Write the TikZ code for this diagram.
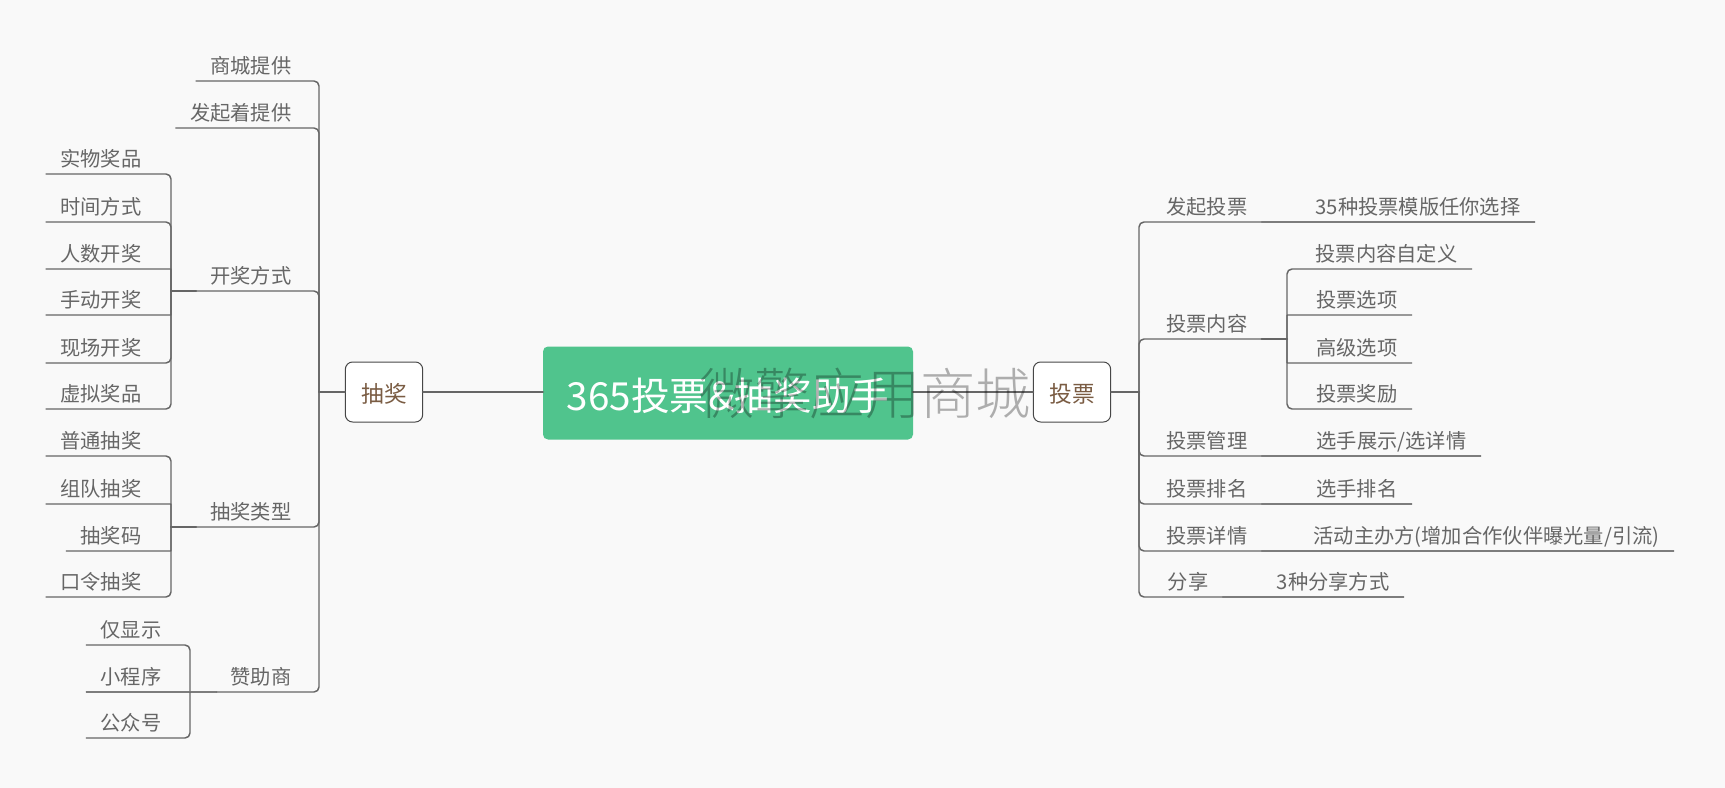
\documentclass[tikz,border=0pt]{standalone}
\usepackage{fontspec}
\setmainfont{Noto Sans CJK SC}
\newfontfamily\stampfont[UprightFont=* Light]{Noto Sans CJK SC}
\definecolor{ink}{HTML}{666666}
\definecolor{canvas}{HTML}{F9F9F9}
\definecolor{rootgreen}{HTML}{50C48D}
\definecolor{boxtext}{HTML}{7A5C43}
\tikzset{
  every picture/.style={line cap=round, line join=round},
  rootbox/.style={
    fill=rootgreen,
    rounded corners=3.75pt,
    minimum width=277.5pt,
    minimum height=69.75pt,
    inner sep=0pt,
    text=white,
    text height=28pt,
    text depth=1.5pt,
    font=\fontsize{29}{32}\selectfont
  },
  mainbox/.style={
    draw=ink!120,
    fill=white,
    rounded corners=5.5pt,
    line width=0.75pt,
    minimum width=58pt,
    minimum height=45pt,
    inner sep=0pt,
    text=boxtext,
    text height=16pt,
    text depth=0pt,
    font=\fontsize{17}{20}\selectfont
  },
  topic/.style={
    anchor=south east,
    xshift=1.25pt,
    inner xsep=10.5pt,
    inner ysep=0pt,
    text height=12pt,
    text depth=5.3pt,
    text=ink,
    font=\fontsize{15.2}{18}\selectfont
  },
  stamp/.style={
    text=black,
    text opacity=0.3,
    inner sep=0pt,
    font=\stampfont\fontsize{41.5}{46}\selectfont
  },
  mainlink/.style={draw=ink, line width=2.2pt},
  boxlink/.style={draw=ink, line width=1.5pt},
  flatlink/.style={draw=ink!85, line width=1pt},
  link/.style={draw=ink, line width=1.1pt, rounded corners=0.4pt},
  elbow/.style={link, rounded corners=3.75pt}
}
\begin{document}
\begin{tikzpicture}[x=0.75pt, y=-0.75pt]
  \useasboundingbox[fill=canvas] (0,0) rectangle (1725,788);

  % Nodes
  \node[rootbox] (root) at (728,393) {365投票\&抽奖助手};
  \node[mainbox] (draw) at (384,392) {抽奖};
  \node[mainbox] (vote) at (1072,392) {投票};
  \coordinate (drawjoin) at (319,392);
  \coordinate (votejoin) at (1139,392);

  % Lottery side
  \node[topic] (mall) at (304,81) {商城提供};
  \node[topic] (host) at (304,128) {发起着提供};
  \node[topic] (mode) at (304,291) {开奖方式};
  \node[topic] (kind) at (304,527) {抽奖类型};
  \node[topic] (sponsor) at (304,692) {赞助商};
  \coordinate (modejoin) at (171,291);
  \coordinate (kindjoin) at (171,527);
  \coordinate (sponsorjoin) at (190,692);

  \node[topic] (real) at (154,174) {实物奖品};
  \node[topic] (timed) at (154,222) {时间方式};
  \node[topic] (crowd) at (154,269) {人数开奖};
  \node[topic] (manual) at (154,315) {手动开奖};
  \node[topic] (onsite) at (154,363) {现场开奖};
  \node[topic] (virtual) at (154,409) {虚拟奖品};

  \node[topic] (plain) at (154,456) {普通抽奖};
  \node[topic] (team) at (154,504) {组队抽奖};
  \node[topic] (code) at (154,551) {抽奖码};
  \node[topic] (secret) at (154,597) {口令抽奖};

  \node[topic] (show) at (174,645) {仅显示};
  \node[topic] (miniapp) at (174,692) {小程序};
  \node[topic] (account) at (174,738) {公众号};

  % Vote side
  \node[topic] (start) at (1260,222) {发起投票};
  \node[topic] (content) at (1260,339) {投票内容};
  \node[topic] (manage) at (1260,456) {投票管理};
  \node[topic] (rank) at (1260,504) {投票排名};
  \node[topic] (detail) at (1260,551) {投票详情};
  \node[topic] (share) at (1221,597) {分享};
  \coordinate (contentjoin) at (1287,339);

  \node[topic] (templates) at (1533,222) {35种投票模版任你选择};
  \node[topic] (custom) at (1470,269) {投票内容自定义};
  \node[topic] (options) at (1410,315) {投票选项};
  \node[topic] (advanced) at (1410,363) {高级选项};
  \node[topic] (reward) at (1410,409) {投票奖励};
  \node[topic] (players) at (1479,456) {选手展示/选详情};
  \node[topic] (playerrank) at (1410,504) {选手排名};
  \node[topic] (organizer) at (1672,551) {活动主办方(增加合作伙伴曝光量/引流)};
  \node[topic] (shareways) at (1402,597) {3种分享方式};

  % Main branches
  \draw[mainlink] (draw.east) -- (draw.east -| root.west);
  \draw[mainlink] (root.east |- vote.west) -- (vote.west);
  \draw[boxlink] (draw.west) -- (drawjoin);
  \draw[boxlink] (vote.east) -- (votejoin);

  % Lottery branches
  \draw[elbow] (mall.south west) -- (mall.south east) -| (drawjoin);
  \draw[elbow] (host.south west) -- (host.south east) -| (drawjoin);
  \draw[elbow] (mode.south west) -- (mode.south east) -| (drawjoin);
  \draw[elbow] (kind.south west) -- (kind.south east) -| (drawjoin);
  \draw[elbow] (sponsor.south west) -- (sponsor.south east) -| (drawjoin);

  \draw[boxlink] (modejoin) -- (mode.south west);
  \draw[boxlink] (kindjoin) -- (kind.south west);
  \draw[boxlink] (sponsorjoin) -- (sponsor.south west);

  \draw[elbow] (real.south west) -- (real.south east) -| (modejoin);
  \draw[elbow] (timed.south west) -- (timed.south east) -| (modejoin);
  \draw[link] (crowd.south west) -- (crowd.south east) -| (modejoin);
  \draw[link] (manual.south west) -- (manual.south east) -| (modejoin);
  \draw[elbow] (onsite.south west) -- (onsite.south east) -| (modejoin);
  \draw[elbow] (virtual.south west) -- (virtual.south east) -| (modejoin);

  \draw[elbow] (plain.south west) -- (plain.south east) -| (kindjoin);
  \draw[link] (team.south west) -- (team.south east) -| (kindjoin);
  \draw[link] (code.south west) -- (code.south east) -| (kindjoin);
  \draw[elbow] (secret.south west) -- (secret.south east) -| (kindjoin);

  \draw[elbow] (show.south west) -- (show.south east) -| (sponsorjoin);
  \draw[flatlink] (miniapp.south west) -- (sponsor.south west);
  \draw[elbow] (account.south west) -- (account.south east) -| (sponsorjoin);

  % Vote branches
  \draw[elbow] (start.south east) -- (start.south west) -| (votejoin);
  \draw[elbow] (content.south east) -- (content.south west) -| (votejoin);
  \draw[elbow] (manage.south east) -- (manage.south west) -| (votejoin);
  \draw[elbow] (rank.south east) -- (rank.south west) -| (votejoin);
  \draw[elbow] (detail.south east) -- (detail.south west) -| (votejoin);
  \draw[elbow] (share.south east) -- (share.south west) -| (votejoin);

  \draw[flatlink] (start.south east) -- (templates.south east);
  \draw[boxlink] (content.south east) -- (contentjoin);
  \draw[flatlink] (manage.south east) -- (players.south east);
  \draw[flatlink] (rank.south east) -- (playerrank.south east);
  \draw[flatlink] (detail.south east) -- (organizer.south east);
  \draw[flatlink] (share.south east) -- (shareways.south east);

  \draw[elbow] (custom.south east) -- (custom.south west) -| (contentjoin);
  \draw[link] (options.south east) -- (options.south west) -| (contentjoin);
  \draw[link] (advanced.south east) -- (advanced.south west) -| (contentjoin);
  \draw[elbow] (reward.south east) -- (reward.south west) -| (contentjoin);

  % Overlay
  \node[stamp] (mark) at (865,393) {微擎应用商城};
\end{tikzpicture}
\end{document}
